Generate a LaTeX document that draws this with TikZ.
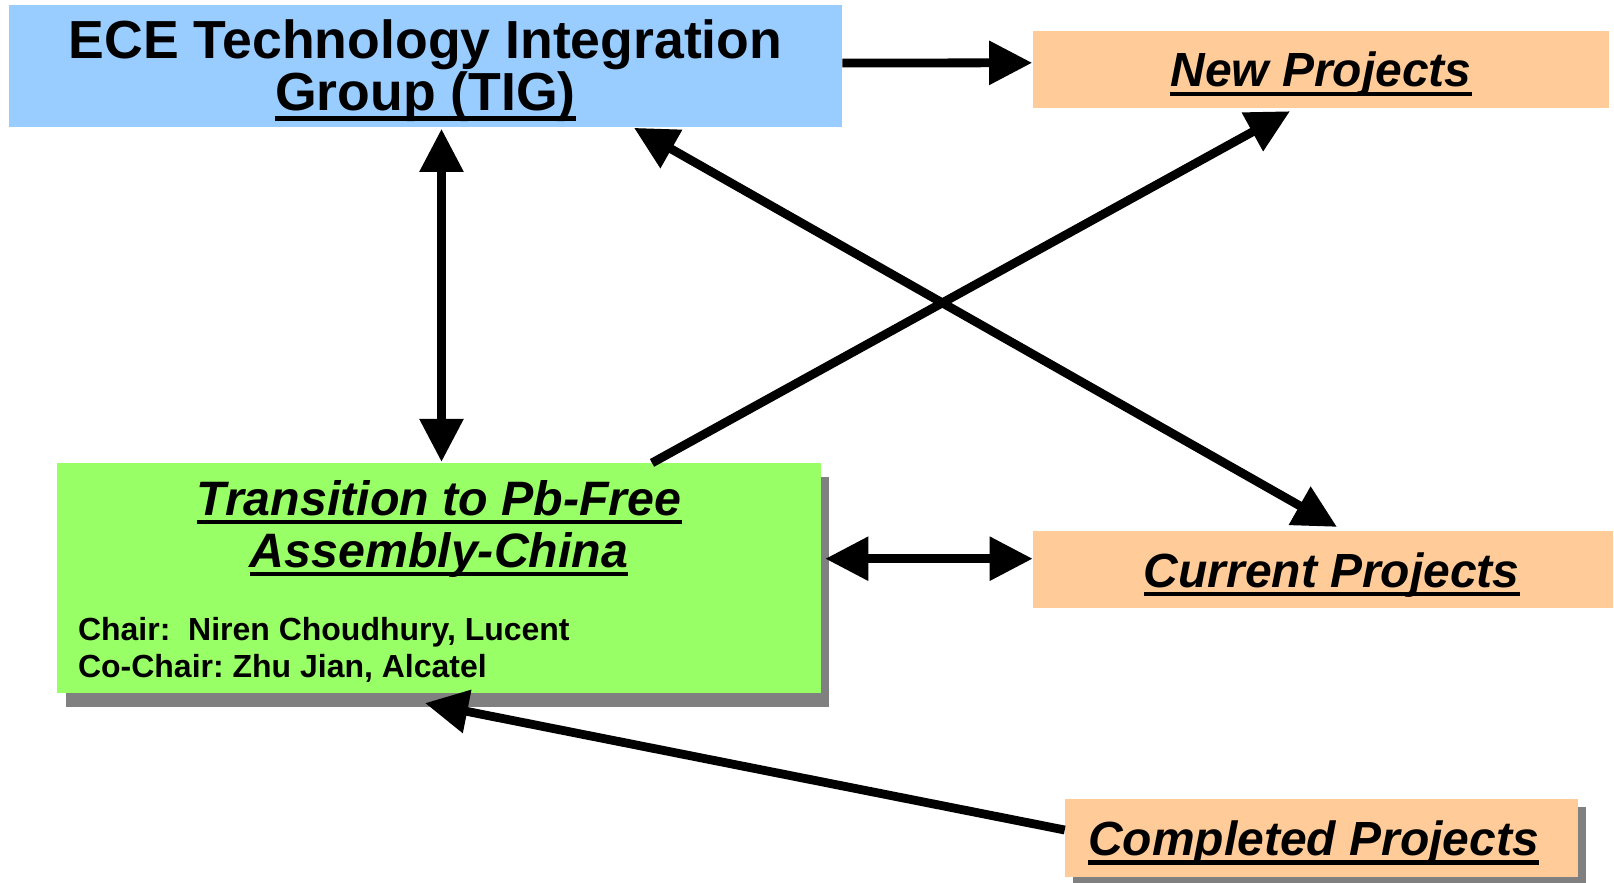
\documentclass[tikz,border=0pt]{standalone}
\usepackage{fontspec}
\setmainfont{Liberation Sans}
\usetikzlibrary{arrows.meta, calc, shadows}

\definecolor{tigblue}{HTML}{99CCFF}
\definecolor{projorange}{HTML}{FFCC99}
\definecolor{pbgreen}{HTML}{99FF66}
\definecolor{shadowgray}{HTML}{808080}

% underline sitting just under the baseline
\newcommand\ulbox[1]{\setbox0=\hbox{#1}\rlap{\vrule height -0.1em depth 0.19em width \wd0}\box0}
\frenchspacing

\begin{document}
\begin{tikzpicture}[x=0.02cm, y=-0.02cm, >={Triangle[length=0.86cm,width=0.84cm]},
  box node/.style={rectangle, inner sep=0pt, minimum height=1.53cm},
  proj node/.style={box node, fill=projorange, text height=20pt, text depth=0pt,
    font=\fontsize{27.3}{30}\selectfont\bfseries\itshape},
  big arrow/.style={line width=5pt}]

\useasboundingbox (0,0) rectangle (1614,883);

\node[box node, fill=tigblue, minimum width=16.66cm, minimum height=2.44cm] (tig) at (425.5,66) {};
\node[anchor=north, align=center, inner sep=0pt,
  font=\fontsize{30.5}{29.6}\selectfont\bfseries] (tigtitle)
  at ($(tig.north)+(0,14.5)$) {ECE Technology Integration\\\ulbox{Group (TIG)}};
\node[proj node, minimum width=11.54cm] (newp) at (1321,69.3) {\ulbox{New Projects}};
\node[proj node, minimum width=11.6cm] (curp) at (1323,569.5) {\kern0.35cm\ulbox{Current Projects}};
\node[proj node, minimum width=10.26cm, minimum height=1.57cm,
  general shadow={fill=shadowgray, shadow xshift=0.16cm, shadow yshift=-0.16cm}]
  (donep) at (1321.5,838) {\ulbox{Completed Projects}\kern0.32cm};

\node[box node, fill=pbgreen, minimum width=15.28cm, minimum height=4.59cm,
  general shadow={fill=shadowgray, shadow xshift=0.17cm, shadow yshift=-0.28cm}]
  (pbfree) at (439,578) {};
\node[anchor=north, align=center, inner sep=0pt,
  font=\fontsize{27.5}{29.6}\selectfont\bfseries\itshape] (pbtitle)
  at ($(pbfree.north)+(0,17)$) {\ulbox{Transition to Pb-Free}\\\ulbox{Assembly-China}};
\node[anchor=north west, align=left, inner sep=0pt,
  font=\fontsize{18.2}{20.9}\selectfont\bfseries] (chair)
  at ($(pbfree.north west)+(21,154)$) {Chair:\ \ Niren Choudhury, Lucent\\Co-Chair: Zhu Jian, Alcatel};

\draw[big arrow, ->] ($(tig.east)+(0,-3)$) -- ($(newp.west)+(0,-6.5)$);
\draw[big arrow, <->] ($(tig.south)+(16,1.5)$) -- ($(pbfree.north)+(2.5,-1)$);
\draw[big arrow, <->] ($(tig.south)+(208.5,0.5)$) -- ($(curp.north)+(14,-4)$);
\draw[big arrow, ->] ($(pbfree.north)+(213,0)$) -- ($(newp.south)+(-31,3.3)$);
\draw[big arrow, <->] ($(pbfree.east)+(4,-19.3)$) -- ($(curp.west)+(0,-10.8)$);
\draw[big arrow, ->] ($(donep.west)+(0,-8)$) -- ($(pbfree.south)+(-14,10)$);

\end{tikzpicture}
\end{document}
